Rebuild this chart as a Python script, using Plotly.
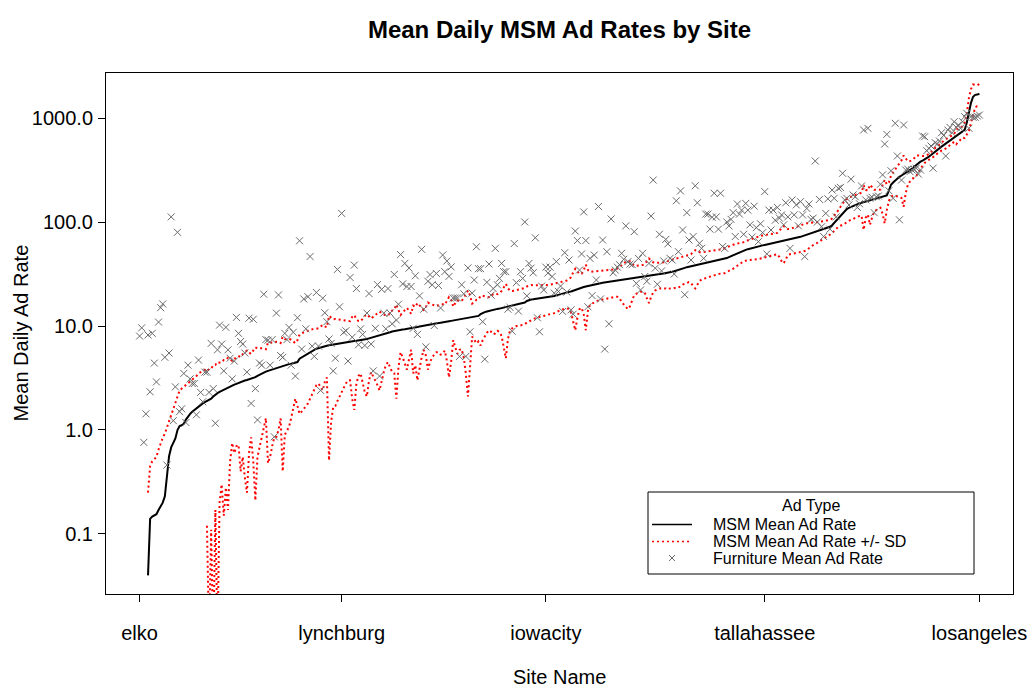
import plotly.graph_objects as go

# ---- data ----
site_index = list(range(1, 401))
tick_positions = [1, 97, 194, 298, 400]
tick_labels = ["elko", "lynchburg", "iowacity", "tallahassee", "losangeles"]
y_tick_values = [0.1, 1, 10, 100, 1000]
y_tick_labels = ["0.1", "1.0", "10.0", "100.0", "1000.0"]
legend_labels = ["MSM Mean Ad Rate", "MSM Mean Ad Rate +/- SD", "Furniture Mean Ad Rate"]

msm_mean = [
    0, 0, 0, 0, 0.04, 0.14, 0.147, 0.15, 0.155, 0.17, 0.185, 0.20, 0.23, 0.39, 0.56, 0.68, 0.76, 0.83, 1.0, 1.09,
    1.11, 1.15, 1.26, 1.35, 1.43, 1.5, 1.56, 1.62, 1.7, 1.76, 1.8, 1.85, 1.89, 1.93, 2.0, 2.1, 2.2, 2.26, 2.32, 2.38,
    2.43, 2.5, 2.56, 2.62, 2.68, 2.73, 2.78, 2.84, 2.9, 2.94, 2.99, 3.03, 3.08, 3.12, 3.15, 3.22, 3.32, 3.41, 3.5, 3.58,
    3.64, 3.7, 3.76, 3.82, 3.88, 3.95, 4.02, 4.08, 4.14, 4.2, 4.26, 4.3, 4.34, 4.38, 4.42, 4.5, 4.85, 5.0, 5.15, 5.3,
    5.45, 5.6, 5.75, 5.9, 6.05, 6.15, 6.25, 6.32, 6.4, 6.46, 6.52, 6.58, 6.64, 6.7, 6.76, 6.82, 6.87, 6.92, 6.97, 7.02,
    7.07, 7.12, 7.16, 7.2, 7.24, 7.28, 7.32, 7.4, 7.5, 7.6, 7.7, 7.8, 7.9, 8.0, 8.08, 8.16, 8.24, 8.4, 8.55, 8.7,
    8.85, 8.95, 9.05, 9.12, 9.18, 9.24, 9.3, 9.36, 9.42, 9.5, 9.6, 9.7, 9.8, 9.9, 10.0, 10.1, 10.2, 10.3, 10.4, 10.5,
    10.55, 10.6, 10.7, 10.75, 10.8, 10.9, 11.0, 11.1, 11.2, 11.3, 11.4, 11.5, 11.6, 11.7, 11.8, 11.9, 12.0, 12.1, 12.15, 12.2,
    12.3, 12.5, 13.0, 13.4, 13.6, 13.8, 14.0, 14.1, 14.3, 14.5, 14.6, 14.7, 14.85, 15.0, 15.15, 15.3, 15.45, 15.6, 15.8, 16.0,
    16.2, 16.4, 16.6, 16.8, 17.4, 17.8, 18.0, 18.1, 18.2, 18.3, 18.4, 18.5, 18.6, 18.7, 18.8, 18.9, 19.1, 19.4, 19.7, 20.0,
    20.3, 20.6, 20.9, 21.1, 21.3, 21.5, 21.9, 22.3, 22.7, 23.1, 23.4, 23.7, 24.0, 24.3, 24.6, 24.9, 25.2, 25.4, 25.6, 25.8,
    26.0, 26.2, 26.4, 26.6, 26.8, 27.0, 27.2, 27.4, 27.6, 27.8, 28.0, 28.2, 28.4, 28.6, 28.7, 28.9, 29.2, 29.5, 29.8, 30.0,
    30.2, 30.4, 30.6, 30.8, 31.0, 31.2, 31.4, 31.6, 31.8, 32.0, 32.2, 32.4, 32.8, 33.2, 33.6, 34.0, 34.5, 35.0, 35.6, 36.2,
    36.8, 37.2, 37.5, 37.9, 38.3, 38.7, 39.1, 39.5, 39.9, 40.3, 40.7, 41.1, 41.5, 41.9, 42.3, 42.7, 43.2, 43.6, 44.2, 45.0,
    46.0, 47.0, 48.0, 49.0, 50.0, 51.0, 52.0, 53.0, 54.0, 54.8, 55.6, 56.4, 57.2, 57.8, 58.4, 59.0, 59.6, 60.2, 60.8, 61.4,
    62.0, 62.6, 63.2, 63.8, 64.4, 65.0, 65.6, 66.2, 66.8, 67.4, 68.2, 69.0, 70.0, 71.0, 72.0, 73.2, 74.4, 75.6, 76.8, 78.0,
    79.2, 80.4, 81.6, 82.8, 84.0, 85.4, 87.0, 88.5, 90.0, 93.0, 98.0, 104, 110, 116, 122, 128, 133, 137, 140, 143,
    146, 149, 151, 153, 155, 157, 159, 161, 163, 165, 167, 169, 171, 173, 176, 180, 200, 228, 240, 252,
    262, 272, 280, 288, 296, 305, 315, 326, 340, 355, 368, 380, 390, 400, 412, 425, 440, 458, 478, 496,
    512, 530, 548, 566, 585, 605, 625, 645, 668, 690, 715, 740, 770, 900, 1150, 1400, 1600, 1670, 1680, 1710,
]

msm_sd = [
    0, 0, 0, 0, 0.21, 0.31, 0.353, 0.37, 0.395, 0.48, 0.575, 0.64, 0.69, 0.66, 0.69, 0.74, 0.84, 1.02, 1.1, 1.31,
    1.39, 1.45, 1.44, 1.45, 1.47, 1.55, 1.6, 1.68, 1.8, 1.84, 1.9, 1.95, 1.77, 1.92, 1.89, 2.092, 2.03, 2.25, 2.12, 2.08,
    2.28, 2.22, 2.39, 2.12, 1.93, 2.13, 2.08, 2.12, 2.5, 2.39, 2.64, 2.78, 2.48, 2.27, 2.65, 3.01, 2.77, 2.73, 2.6, 2.48,
    2.34, 3.22, 3.21, 3.12, 3.03, 3.09, 3.02, 2.79, 3.74, 3.3, 3.26, 3.23, 3.04, 2.78, 2.42, 2.8, 3.42, 3.5, 3.55, 3.63,
    3.65, 3.6, 3.55, 3.4, 3.35, 3.35, 3.65, 3.92, 3.5, 3.26, 6.01, 5.38, 4.97, 5.0, 4.86, 4.72, 4.57, 4.32, 4.17, 4.02,
    4.07, 5.12, 5.6, 4.4, 3.94, 3.78, 4.52, 5.1, 5.4, 4.6, 4.1, 4.5, 4.9, 5.3, 5.68, 5.16, 4.64, 4.2, 4.05, 4.7,
    5.25, 5.45, 7.05, 5.12, 3.58, 4.24, 4.9, 5.56, 4.62, 3.6, 6.1, 5.5, 6.8, 5.9, 5.0, 4.2, 5.0, 6.5, 5.9, 5.5,
    5.25, 5.0, 5.1, 5.45, 5.4, 5.1, 6.4, 7.9, 6.7, 4.0, 5.2, 6.1, 5.7, 5.7, 6.8, 8.4, 9.9, 7.6, 4.25, 4.8,
    5.5, 5.4, 6.5, 6.1, 5.6, 5.2, 4.9, 5.3, 6.0, 6.0, 5.6, 5.9, 6.85, 8.5, 10.25, 7.8, 6.35, 6.1, 6.0, 6.0,
    6.2, 6.3, 6.4, 6.4, 6.6, 6.8, 6.8, 6.5, 6.3, 6.3, 6.2, 6.2, 6.1, 6.0, 6.0, 6.0, 6.1, 6.1, 6.1, 6.0,
    6.1, 6.2, 6.3, 6.3, 6.8, 8.0, 10.9, 13.2, 10.7, 8.6, 8.4, 10.7, 14.9, 10.3, 8.6, 8.4, 8.2, 8.1, 8.0, 8.0,
    8.0, 8.0, 8.0, 8.0, 8.0, 8.0, 8.1, 8.3, 9.1, 10.8, 12.0, 13.2, 13.9, 13.1, 10.7, 9.1, 8.8, 8.5, 8.4, 8.6,
    9.2, 11.9, 14.0, 11.8, 10.0, 9.2, 8.9, 8.6, 8.8, 9.0, 9.2, 9.9, 9.8, 10.2, 10.4, 11.0, 11.0, 11.0, 10.6, 10.7,
    10.8, 10.8, 11.5, 13.9, 15.3, 13.7, 12.1, 11.5, 11.4, 11.3, 11.2, 11.3, 11.3, 11.1, 11.1, 11.1, 11.2, 11.4, 12.0, 12.0,
    12.2, 12.5, 13.0, 12.5, 12.0, 11.5, 11.0, 11.0, 11.5, 11.8, 12.3, 12.9, 13.6, 14.2, 14.6, 14.5, 14.6, 14.7, 14.8, 14.9,
    15.0, 15.1, 15.2, 14.8, 18.4, 23.0, 25.6, 22.2, 18.8, 18.4, 18.7, 19.0, 19.5, 20.0, 20.5, 21.2, 21.9, 21.6, 20.8, 20.0,
    19.2, 18.4, 18.6, 17.8, 17.0, 16.4, 16.0, 15.5, 15.0, 15.0, 16.0, 18.0, 20.0, 24.0, 28.0, 32.0, 33, 34, 35, 36,
    36, 37, 37, 38, 71, 47, 41, 67, 53, 39, 37, 35, 34, 53, 79, 50, 40, 53, 60, 74,
    86, 97, 110, 148, 106, 78, 70, 66, 70, 79, 68, 50, 40, 30, 27, 25, 30, 38, 38, 36,
    37, 45, 58, 56, 55, 55, 55, 55, 108, 100, 95, 90, 130, 200, 400, 500, 500, 400, 380, 420,
]

furniture_mean = [
    8.0, 9.6, 0.76, 1.43, 8.2, 2.33, 8.5, 4.4, 2.9, 10.9, 15.0, 16.3, 5.0, 0.46, 5.5, 112, 1.23, 2.6, 79.6, 1.5,
    1.6, 3.5, 1.18, 4.2, 3.1, 2.8, 2.8, 1.4, 4.7, 2.3, 1.87, 3.6, 3.6, 2.3, 6.8, 2.5, 1.16, 5.9, 10.2, 6.7,
    3.7, 9.7, 5.9, 4.9, 3.1, 4.6, 12.1, 8.5, 7.1, 6.7, 5.5, 3.6, 11.9, 1.8, 11.6, 2.5, 1.25, 4.4, 4.2, 20.2,
    7.4, 7.3, 4.2, 7.4, 0.86, 13.3, 19.9, 5.2, 5.0, 8.5, 7.4, 9.7, 4.2, 8.7, 3.3, 12.0, 66, 6.0, 18.2, 9.4,
    19.1, 46.6, 6.4, 5.1, 21.0, 6.4, 2.4, 18.5, 13.4, 11.0, 7.5, 6.8, 3.7, 4.9, 35, 15.3, 121, 8.7, 9.0, 4.6,
    29.3, 7.8, 38.5, 22.9, 6.6, 9.4, 8.3, 6.5, 13.3, 20.5, 6.7, 3.7, 9.5, 25.0, 3.3, 22.5, 13.3, 9.4, 22.9, 13.3,
    10.5, 31.3, 11.4, 16.2, 48.6, 25.4, 40, 24.0, 36.0, 24.0, 9.5, 30.4, 8.3, 19.5, 54.6, 14.5, 6.3, 26.9, 31.2, 24.9,
    10.1, 32, 24.5, 14.9, 48.1, 33.3, 42.2, 30, 37, 18.6, 18.6, 18.6, 5.1, 24.9, 20.4, 5.1, 36.2, 8.8, 20.7, 27.7,
    57.8, 35.6, 35.6, 11.0, 4.8, 26.3, 39.4, 19.8, 22.9, 55.8, 24.9, 28.7, 40, 33.3, 33.3, 14.5, 15.1, 8.9, 62, 26.1,
    13.9, 33.3, 28.7, 100, 19.5, 40, 36, 32.5, 70.5, 12.0, 8.8, 24.2, 22.2, 36.8, 32.3, 36.8, 29.9, 20.7, 41.6, 21.5,
    24.2, 13.8, 50.7, 21.2, 43.1, 14.3, 13.0, 81.8, 66.3, 34.5, 49.3, 125, 66.3, 15.3, 44.7, 19.6, 48.1, 27.7, 141, 18.2,
    67.1, 6.0, 51.8, 10.5, 107, 32.5, 34.5, 36.8, 38.9, 50, 43.8, 91.8, 41.6, 39.4, 38.9, 80.7, 25.7, 44.7, 22.2, 50,
    29.9, 26.9, 40, 114, 253, 36, 25.2, 76.2, 33.9, 42.2, 68, 61.6, 44.7, 43.1, 31.6, 160, 51.8, 199, 83.8, 20,
    123, 67.1, 43.1, 72.5, 223, 153, 62.4, 55.8, 44.7, 119, 119, 85.4, 111, 189, 112, 85.4, 189, 58, 55.8, 100,
    91.8, 106, 123, 72.5, 149, 119, 130, 76.2, 151, 130, 93.9, 71.6, 142, 88.2, 64.7, 96.2, 78.9, 196, 49.3, 130,
    83.8, 130, 104, 138, 109, 117, 93.9, 153, 112, 55.8, 163, 117, 146, 91.8, 157, 117, 46.5, 135, 149, 106,
    109, 386, 100, 165, 90, 72.5, 121, 167, 85.4, 203, 169, 112, 211, 215, 294, 163, 169, 146, 258, 182,
    175, 138, 150, 222, 767, 163, 796, 169, 173, 123, 175, 178, 231, 284, 562, 696, 200, 311, 169, 889,
    431, 105, 253, 857, 316, 322, 305, 316, 322, 329, 289, 316, 671, 661, 485, 511, 538, 329, 579, 562,
    600, 722, 680, 431, 767, 813, 722, 921, 813, 857, 796, 921, 1030, 1109, 796, 1030, 1016, 1016, 1045, 1068,
]

# ---- derived series (log axis: non-positive values are not drawn) ----
def positive_or_none(v):
    return v if v > 0 else None

mean_line = [positive_or_none(m) for m in msm_mean]
upper_line = [positive_or_none(m + s) for m, s in zip(msm_mean, msm_sd)]
lower_line = [positive_or_none(m - s) for m, s in zip(msm_mean, msm_sd)]

FONT = "Liberation Sans, Arial, Helvetica, sans-serif"
W, H = 1028, 687
ML, MR, MT, MB = 106, 15, 73, 93
PW, PH = W - ML - MR, H - MT - MB
n = len(site_index)
pad = 0.04 * (n - 1)
GRAY = "#6a6a6a"
RED = "#ff0000"


def px(xp):
    return (xp - ML) / PW


def py(yp):
    return (H - MB - yp) / PH


fig = go.Figure()
fig.add_trace(go.Scatter(
    x=site_index, y=mean_line, mode="lines", name=legend_labels[0],
    line=dict(color="black", width=2), connectgaps=False,
))
fig.add_trace(go.Scatter(
    x=site_index, y=upper_line, mode="lines", name=legend_labels[1],
    line=dict(color=RED, width=2, dash="2px,3px"), connectgaps=False,
))
fig.add_trace(go.Scatter(
    x=site_index, y=lower_line, mode="lines", name=legend_labels[1],
    line=dict(color=RED, width=2, dash="2px,3px"), connectgaps=False,
))
fig.add_trace(go.Scatter(
    x=site_index, y=furniture_mean, mode="markers", name=legend_labels[2],
    marker=dict(symbol="x-thin", size=7, line=dict(color=GRAY, width=1), color=GRAY),
))

# ---- legend box drawn in the R style (title centered, compact rows) ----
box_l, box_r, box_t, box_b = 648, 974, 492, 574
row_y = [524.5, 541.5, 558]
sym_l, sym_r, text_x = 652, 692, 711
shapes = [
    dict(type="rect", xref="paper", yref="paper", x0=px(box_l), x1=px(box_r),
         y0=py(box_b), y1=py(box_t), line=dict(color="black", width=1),
         fillcolor="white", layer="above"),
    dict(type="line", xref="paper", yref="paper", x0=px(sym_l), x1=px(sym_r),
         y0=py(row_y[0]), y1=py(row_y[0]), line=dict(color="black", width=1.5), layer="above"),
    dict(type="line", xref="paper", yref="paper", x0=px(sym_l), x1=px(sym_r),
         y0=py(row_y[1]), y1=py(row_y[1]), line=dict(color=RED, width=1.5, dash="2px,3px"),
         layer="above"),
]
cx = (sym_l + sym_r) / 2
for dx in (-1, 1):
    shapes.append(dict(type="line", xref="paper", yref="paper",
                       x0=px(cx - 3), x1=px(cx + 3),
                       y0=py(row_y[2] - 3 * dx), y1=py(row_y[2] + 3 * dx),
                       line=dict(color=GRAY, width=1), layer="above"))

annotations = [
    dict(text="Site Name", xref="paper", yref="paper", x=0.5, y=0,
         yshift=-83, xanchor="center", yanchor="middle", showarrow=False,
         font=dict(family=FONT, size=20)),
    dict(text="Mean Daily Ad Rate", xref="paper", yref="paper", x=0, y=0.5,
         xshift=-86, xanchor="center", yanchor="middle", textangle=-90, showarrow=False,
         font=dict(family=FONT, size=20)),
    dict(text="Ad Type", xref="paper", yref="paper", x=px((box_l + box_r) / 2), y=py(505),
         xanchor="center", yanchor="middle", showarrow=False,
         font=dict(family=FONT, size=16)),
]
for label, ry in zip(legend_labels, row_y):
    annotations.append(dict(text=label, xref="paper", yref="paper", x=px(text_x), y=py(ry),
                            xanchor="left", yanchor="middle", showarrow=False,
                            font=dict(family=FONT, size=16)))

fig.update_layout(
    width=W, height=H,
    margin=dict(l=ML, r=MR, t=MT, b=MB, autoexpand=False),
    paper_bgcolor="white", plot_bgcolor="white",
    font=dict(family=FONT, size=20, color="black"),
    title=dict(text="<b>Mean Daily MSM Ad Rates by Site</b>", x=0.5, xref="paper",
               y=1 - 30 / H, yref="container", yanchor="middle",
               font=dict(family=FONT, size=24, color="black")),
    showlegend=False,
    xaxis=dict(
        range=[1 - pad, n + pad], showgrid=False, zeroline=False,
        showline=True, mirror=True, linecolor="black", linewidth=1,
        ticks="outside", ticklen=7, tickwidth=1, tickcolor="black",
        tickvals=tick_positions, ticktext=tick_labels,
        tickfont=dict(family=FONT, size=20), ticklabelstandoff=14, automargin=False,
    ),
    yaxis=dict(
        type="log", range=[-1.577, 3.4327], showgrid=False, zeroline=False,
        showline=True, mirror=True, linecolor="black", linewidth=1,
        ticks="outside", ticklen=7, tickwidth=1, tickcolor="black",
        tickvals=y_tick_values, ticktext=y_tick_labels,
        tickfont=dict(family=FONT, size=20), ticklabelstandoff=1, automargin=False,
    ),
    shapes=shapes,
    annotations=annotations,
)

fig.write_html(
    "out.html",
    config={"displayModeBar": False, "staticPlot": True},
    post_script="document.body.style.margin='0px'; document.body.style.overflow='hidden';",
)
